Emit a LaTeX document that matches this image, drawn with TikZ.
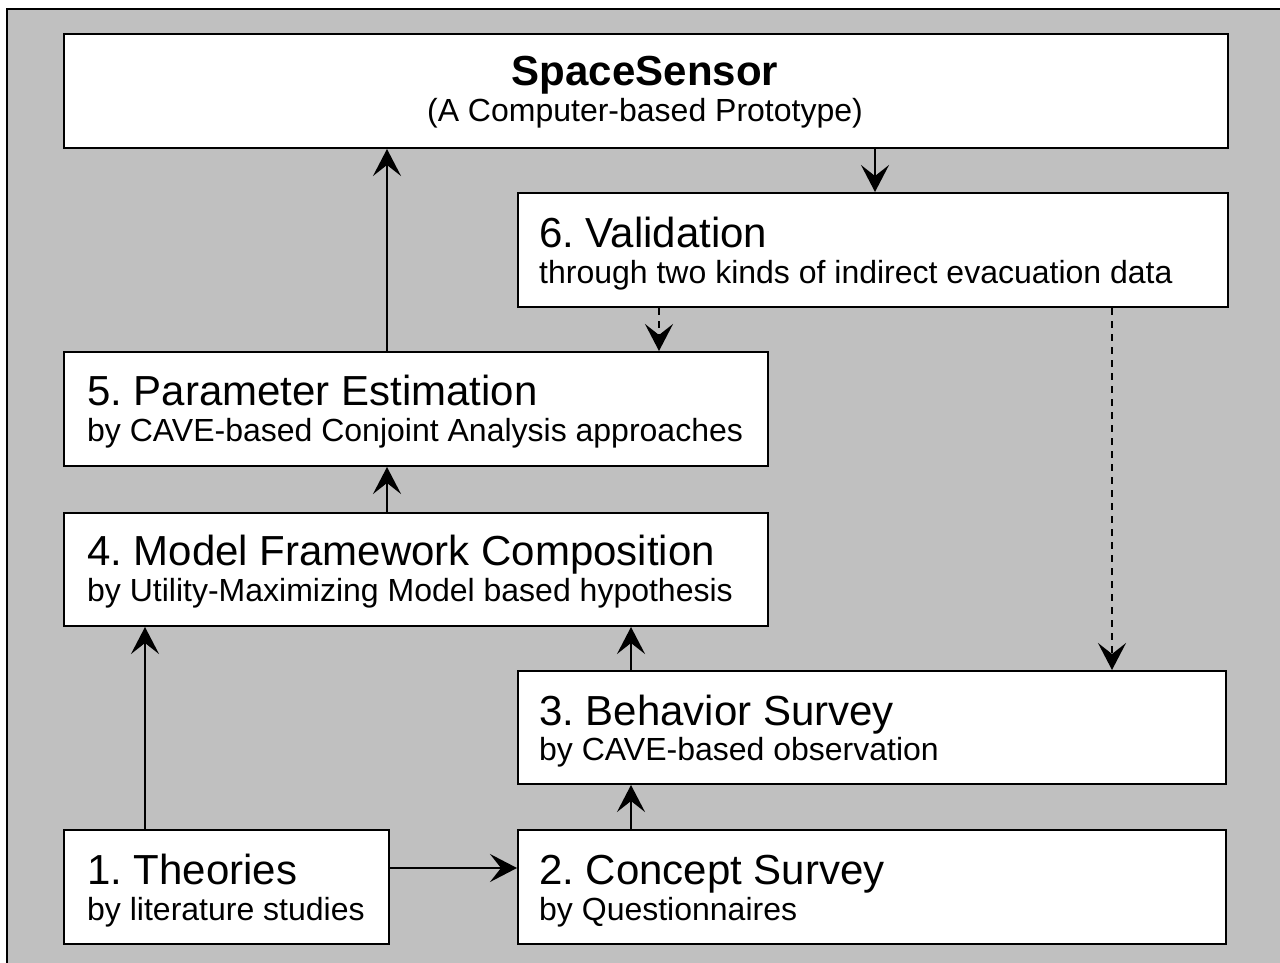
\documentclass[tikz,border=0pt]{standalone}
\usepackage{fontspec}
\setmainfont{Liberation Sans}
\usetikzlibrary{arrows.meta}
\definecolor{bggray}{RGB}{192,192,192}
\frenchspacing
\tikzset{
  box/.style={draw=black, line width=2pt, fill=white, rectangle, inner sep=0pt, anchor=north west},
  ttl/.style={anchor=base west, inner sep=0pt, font=\fontsize{42}{50}\selectfont},
  sub/.style={anchor=base west, inner sep=0pt, font=\fontsize{32}{38}\selectfont},
  arr/.style={line width=2pt, -{Stealth[length=27pt,width=28pt,inset=11pt]}},
  darr/.style={arr, dash pattern=on 7pt off 6pt}
}
\begin{document}
\begin{tikzpicture}[x=1pt,y=-1pt]
\useasboundingbox (0,0) rectangle (1280,963);
\clip (0,0) rectangle (1280,963);
\draw[line width=2pt, fill=bggray] (7,9) rectangle (1300,1000);

\node[box, minimum width=1164pt, minimum height=114pt] (space) at (63,33) {};
\node[box, minimum width=710pt, minimum height=114pt] (val) at (517,192) {};
\node[box, minimum width=704pt, minimum height=114pt] (param) at (63,351) {};
\node[box, minimum width=704pt, minimum height=113pt] (model) at (63,512) {};
\node[box, minimum width=708pt, minimum height=113pt] (behav) at (517,670) {};
\node[box, minimum width=325pt, minimum height=114pt] (theo) at (63,829) {};
\node[box, minimum width=708pt, minimum height=114pt] (concept) at (517,829) {};

\node[anchor=base, inner sep=0pt, font=\fontsize{42}{50}\selectfont\bfseries] (spacet) at (645,86) {SpaceSensor};
\node[anchor=base, inner sep=0pt, font=\fontsize{32}{38}\selectfont] (spaces) at (645,122) {(A Computer-based Prototype)};

\node[ttl] (valt) at ([xshift=22pt,yshift=-55pt]val.north west) {6. Validation};
\node[sub] (vals) at ([xshift=22pt,yshift=-91pt]val.north west) {through two kinds of indirect evacuation data};

\node[ttl] (paramt) at ([xshift=24pt,yshift=-54pt]param.north west) {5. Parameter Estimation};
\node[sub] (params) at ([xshift=24pt,yshift=-90pt]param.north west) {by CAVE-based Conjoint Analysis approaches};

\node[ttl] (modelt) at ([xshift=24pt,yshift=-53pt]model.north west) {4. Model Framework Composition};
\node[sub] (models) at ([xshift=24pt,yshift=-89pt]model.north west) {by Utility-Maximizing Model based hypothesis};

\node[ttl] (behavt) at ([xshift=22pt,yshift=-55pt]behav.north west) {3. Behavior Survey};
\node[sub] (behavs) at ([xshift=22pt,yshift=-90pt]behav.north west) {by CAVE-based observation};

\node[ttl] (theot) at ([xshift=24pt,yshift=-55pt]theo.north west) {1. Theories};
\node[sub] (theos) at ([xshift=24pt,yshift=-91pt]theo.north west) {by literature studies};

\node[ttl] (conceptt) at ([xshift=22pt,yshift=-55pt]concept.north west) {2. Concept Survey};
\node[sub] (concepts) at ([xshift=22pt,yshift=-91pt]concept.north west) {by Questionnaires};

\draw[arr] ([xshift=324pt]param.north west) -- ([xshift=324pt]space.south west);
\draw[arr] ([xshift=812pt]space.south west) -- ([xshift=358pt]val.north west);
\draw[darr] ([xshift=142pt]val.south west) -- ([xshift=596pt]param.north west);
\draw[darr] ([xshift=595pt]val.south west) -- ([xshift=595pt]behav.north west);
\draw[arr] ([xshift=324pt]model.north west) -- ([xshift=324pt]param.south west);
\draw[arr] ([xshift=82pt]theo.north west) -- ([xshift=82pt]model.south west);
\draw[arr] ([xshift=114pt]behav.north west) -- ([xshift=568pt]model.south west);
\draw[arr] ([xshift=114pt]concept.north west) -- ([xshift=114pt]behav.south west);
\draw[arr] ([yshift=-39pt]theo.north east) -- ([yshift=-39pt]concept.north west);
\end{tikzpicture}
\end{document}
